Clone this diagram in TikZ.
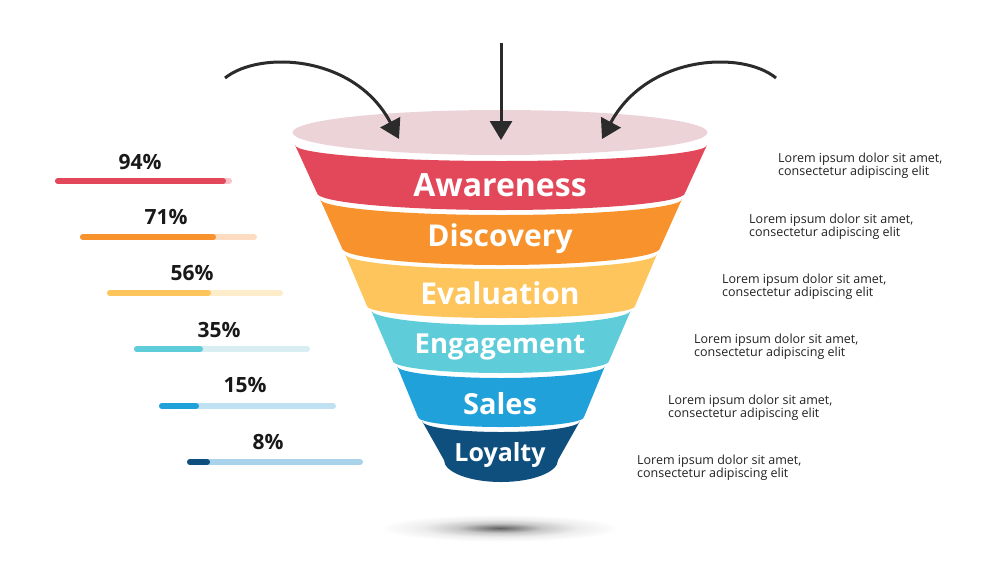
\documentclass[tikz,border=0pt]{standalone}
\usepackage{fontspec}
\setmainfont{Open Sans}
\usetikzlibrary{arrows.meta}
\definecolor{cTop}{HTML}{EBD3D8}
\definecolor{cRed}{HTML}{E24859}
\definecolor{cOrange}{HTML}{F7922D}
\definecolor{cYellow}{HTML}{FDC55B}
\definecolor{cTeal}{HTML}{5ECCD9}
\definecolor{cBlue}{HTML}{20A1D9}
\definecolor{cNavy}{HTML}{0F4F7D}
\definecolor{lRed}{HTML}{F7C3C9}
\definecolor{lOrange}{HTML}{FCDDC2}
\definecolor{lYellow}{HTML}{FEEDCB}
\definecolor{lTeal}{HTML}{D8EEF2}
\definecolor{lBlue}{HTML}{C0E1F1}
\definecolor{lNavy}{HTML}{A9D3EA}
\definecolor{cArrow}{HTML}{2B2B2B}
\definecolor{cText}{HTML}{222222}
\pgfdeclareradialshading{floorshadow}{\pgfpoint{0bp}{0bp}}{%
  color(0bp)=(black!62); color(3bp)=(black!45); color(7bp)=(black!22);
  color(13bp)=(black!7); color(20bp)=(white); color(50bp)=(white)}
\newcommand\funnelband[7]{%
  \fill[#1] (501-#3,#2) -- (501-#6,#5)
    arc[start angle=180,end angle=360,x radius=#6 pt,y radius=#7 pt]
    -- (501+#3,#2)
    arc[start angle=0,end angle=-180,x radius=#3 pt,y radius=#4 pt] -- cycle;}
\begin{document}
\begin{tikzpicture}[x=1pt,y=-1pt,
  bandlabel/.style={text=white,font=\bfseries\fontsize{#1}{#1}\selectfont,inner sep=0pt},
  pctlabel/.style={text=black!90,font=\bfseries\fontsize{21}{21}\selectfont,inner sep=0pt},
  desc/.style={text=cText,font=\fontsize{12.5}{13}\selectfont,align=left,anchor=west,inner sep=0pt},
  arrowline/.style={draw=cArrow,line width=3pt,-{Triangle[length=19pt,width=22pt]}},
  barline/.style={line width=6pt,line cap=round}]
\useasboundingbox (0,0) rectangle (1000,563);
\fill[white] (0,0) rectangle (1000,563);
% shadow
\shade[shading=floorshadow] (500,528) ellipse[x radius=150pt,y radius=17pt];
% top ellipse
\fill[cTop] (500,132.5) ellipse[x radius=207.5pt,y radius=22.5pt];
% bands
\funnelband{cRed}{145}{206}{16}{193}{184}{17}
\funnelband{cOrange}{199}{181}{16}{248}{159}{17}
\funnelband{cYellow}{254}{156}{15}{306}{134}{12}
\funnelband{cTeal}{310}{130}{15}{361}{108}{12}
\funnelband{cBlue}{366}{104}{12}{417}{83}{10}
\funnelband{cNavy}{421}{79}{11}{460}{57}{22}
% band labels
\node[bandlabel=32] (awareness) at (500,185) {Awareness};
\node[bandlabel=30] (discovery) at (500,239) {Discovery};
\node[bandlabel=30] (evaluation) at (500,293) {Evaluation};
\node[bandlabel=27.5] (engagement) at (500,347) {Engagement};
\node[bandlabel=29] (sales) at (500,404) {Sales};
\node[bandlabel=25] (loyalty) at (500,455) {Loyalty};
% arrows
\coordinate (la) at (225,78); \coordinate (lb) at (399,139);
\coordinate (ma) at (501,43); \coordinate (mb) at (501,140);
\coordinate (ra) at (776,78); \coordinate (rb) at (602,139);
\draw[arrowline] (la) .. controls (260,50) and (355,55) .. (lb);
\draw[arrowline] (ma) -- (mb);
\draw[arrowline] (ra) .. controls (742,50) and (647,55) .. (rb);
% bars
\draw[barline,lRed] (58,181) -- (229,181);
\draw[barline,cRed] (58,181) -- (223,181);
\draw[barline,lOrange] (83,237) -- (254,237);
\draw[barline,cOrange] (83,237) -- (213,237);
\draw[barline,lYellow] (110,293) -- (280,293);
\draw[barline,cYellow] (110,293) -- (208,293);
\draw[barline,lTeal] (137,349) -- (307,349);
\draw[barline,cTeal] (137,349) -- (200,349);
\draw[barline,lBlue] (162,406) -- (333,406);
\draw[barline,cBlue] (162,406) -- (196,406);
\draw[barline,lNavy] (190,462) -- (360,462);
\draw[barline,cNavy] (190,462) -- (207,462);
% percentages
\node[pctlabel] (p94) at (140,162) {94\%};
\node[pctlabel] (p71) at (166,217) {71\%};
\node[pctlabel] (p56) at (192,273) {56\%};
\node[pctlabel] (p35) at (219,330) {35\%};
\node[pctlabel] (p15) at (245,385) {15\%};
\node[pctlabel] (p8) at (268,442) {8\%};
% descriptions
\node[desc] (d1) at (778,166) {Lorem ipsum dolor sit amet,\\consectetur adipiscing elit};
\node[desc] (d2) at (749,227) {Lorem ipsum dolor sit amet,\\consectetur adipiscing elit};
\node[desc] (d3) at (722,287) {Lorem ipsum dolor sit amet,\\consectetur adipiscing elit};
\node[desc] (d4) at (694,347) {Lorem ipsum dolor sit amet,\\consectetur adipiscing elit};
\node[desc] (d5) at (668,408) {Lorem ipsum dolor sit amet,\\consectetur adipiscing elit};
\node[desc] (d6) at (637,468) {Lorem ipsum dolor sit amet,\\consectetur adipiscing elit};
\end{tikzpicture}
\end{document}
